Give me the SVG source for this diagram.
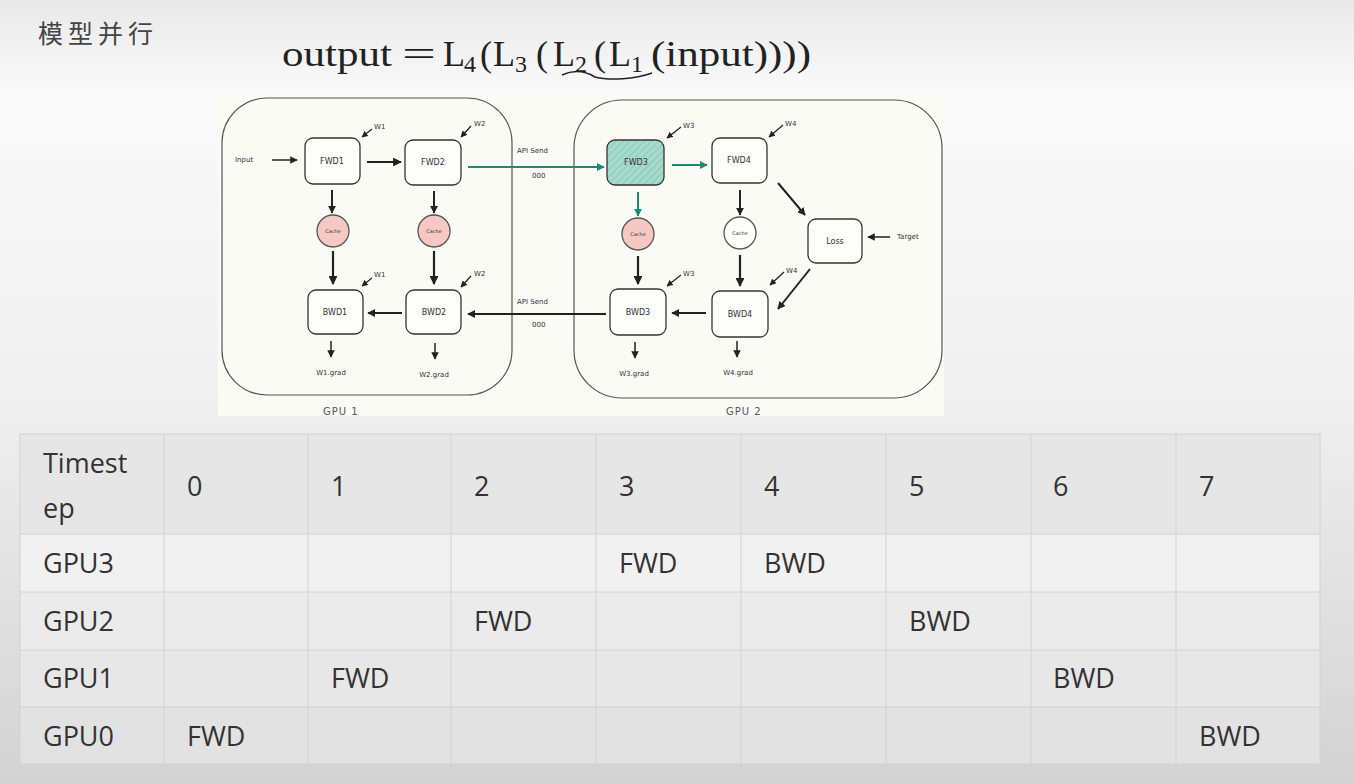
<svg xmlns="http://www.w3.org/2000/svg" width="1354" height="783" viewBox="0 0 1354 783">
<defs>
<linearGradient id="bg" x1="0" y1="0" x2="0" y2="1">
<stop offset="0" stop-color="#e9e9e9"/>
<stop offset="0.12" stop-color="#fafafa"/>
<stop offset="0.5" stop-color="#f0f0f0"/>
<stop offset="1" stop-color="#d3d3d3"/>
</linearGradient>
<pattern id="hatch" width="5" height="5" patternUnits="userSpaceOnUse" patternTransform="rotate(45)">
<rect width="5" height="5" fill="#a6dacb"/>
<line x1="0" y1="0" x2="0" y2="5" stroke="#7fc4b0" stroke-width="1.5"/>
</pattern>
<marker id="ah" viewBox="0 0 10 10" refX="9" refY="5" markerWidth="4" markerHeight="4" orient="auto" markerUnits="strokeWidth">
<path d="M0,0 L10,5 L0,10 z" fill="#222"/>
</marker>
<marker id="ahs" viewBox="0 0 10 10" refX="9" refY="5" markerWidth="5" markerHeight="5" orient="auto" markerUnits="strokeWidth">
<path d="M0,0 L10,5 L0,10 z" fill="#222"/>
</marker>
<marker id="aht" viewBox="0 0 10 10" refX="9" refY="5" markerWidth="4" markerHeight="4" orient="auto" markerUnits="strokeWidth">
<path d="M0,0 L10,5 L0,10 z" fill="#1d8a72"/>
</marker>
</defs>
<style>
.title{font-family:"Noto Sans CJK SC",sans-serif;font-size:25px;fill:#444;letter-spacing:5px}
.math{font-family:"Liberation Serif",serif;font-size:36px;fill:#222}
.sub{font-family:"Liberation Serif",serif;font-size:24px;fill:#222}
.box{fill:#fdfdfb;stroke:#333;stroke-width:1.3}
.gpu{fill:none;stroke:#555;stroke-width:1.2}
.hand{font-family:"DejaVu Sans",sans-serif;font-size:8px;fill:#333}
.small{font-family:"DejaVu Sans",sans-serif;font-size:7px;fill:#333}
.tiny{font-family:"DejaVu Sans",sans-serif;font-size:5px;fill:#333}
.glab{font-family:"DejaVu Sans",sans-serif;font-size:10px;fill:#555;letter-spacing:1px}
.c{stroke:#222;fill:none}
.t{stroke:#1d8a72;fill:none}
.cell{stroke:#d2d2d2;stroke-width:1}
.tt{font-family:"Open Sans",sans-serif;font-size:27px;fill:#333}
</style>
<rect x="0" y="0" width="1354" height="783" fill="url(#bg)"/>

<text class="title" x="38" y="43">模型并行</text>
<g id="formula">
<text class="math" x="282" y="66" textLength="110" lengthAdjust="spacingAndGlyphs">output</text>
<text class="math" x="402" y="66" textLength="34" lengthAdjust="spacingAndGlyphs">=</text>
<text class="math" x="443" y="66">L</text><text class="sub" x="464" y="72">4</text>
<text class="math" x="480" y="66">(</text><text class="math" x="493" y="66">L</text><text class="sub" x="515" y="72">3</text>
<text class="math" x="536" y="66">(</text><text class="math" x="553" y="66">L</text><text class="sub" x="575" y="72">2</text>
<text class="math" x="594" y="66">(</text><text class="math" x="609" y="66">L</text><text class="sub" x="631" y="72">1</text>
<text class="math" x="651" y="66" textLength="160" lengthAdjust="spacingAndGlyphs">(input))))</text>
<path d="M562,75 C575,69 585,71 595,77 C610,81 635,79 652,73" fill="none" stroke="#222" stroke-width="1.5"/>
</g>

<rect x="218" y="95" width="726" height="321" fill="#fbfbf6"/>
<g id="gpu1">
<rect class="gpu" x="222" y="98" width="290" height="297" rx="45"/>
<text class="glab" x="323" y="415">GPU 1</text>
</g>
<g id="gpu2">
<rect class="gpu" x="574" y="100" width="368" height="298" rx="48"/>
<text class="glab" x="726" y="415">GPU 2</text>
</g>

<g id="fwd1"><rect class="box" x="305" y="138" width="55" height="46" rx="8"/><text class="hand" x="332" y="164" text-anchor="middle">FWD1</text></g>
<g id="fwd2"><rect class="box" x="405" y="140" width="56" height="45" rx="8"/><text class="hand" x="433" y="165" text-anchor="middle">FWD2</text></g>
<g id="fwd3"><rect x="607" y="140" width="57" height="45" rx="8" fill="url(#hatch)" stroke="#333" stroke-width="1.3"/><text class="hand" x="636" y="165" text-anchor="middle">FWD3</text></g>
<g id="fwd4"><rect class="box" x="712" y="138" width="55" height="45" rx="8"/><text class="hand" x="739" y="163" text-anchor="middle">FWD4</text></g>
<g id="bwd1"><rect class="box" x="308" y="290" width="55" height="44" rx="8"/><text class="hand" x="335" y="315" text-anchor="middle">BWD1</text></g>
<g id="bwd2"><rect class="box" x="406" y="290" width="55" height="44" rx="8"/><text class="hand" x="434" y="315" text-anchor="middle">BWD2</text></g>
<g id="bwd3"><rect class="box" x="610" y="289" width="56" height="46" rx="8"/><text class="hand" x="638" y="315" text-anchor="middle">BWD3</text></g>
<g id="bwd4"><rect class="box" x="712" y="291" width="56" height="46" rx="8"/><text class="hand" x="740" y="317" text-anchor="middle">BWD4</text></g>
<g id="loss"><rect class="box" x="808" y="219" width="54" height="44" rx="8"/><text class="hand" x="835" y="244" text-anchor="middle">Loss</text></g>
<g id="cache1"><circle cx="333" cy="231" r="16" fill="#f5c8c4" stroke="#555" stroke-width="1.3"/><text class="tiny" x="333" y="233" text-anchor="middle">Cache</text></g>
<g id="cache2"><circle cx="434" cy="231" r="16" fill="#f5c8c4" stroke="#555" stroke-width="1.3"/><text class="tiny" x="434" y="233" text-anchor="middle">Cache</text></g>
<g id="cache3"><circle cx="638" cy="234" r="16" fill="#f5c8c4" stroke="#555" stroke-width="1.3"/><text class="tiny" x="638" y="236" text-anchor="middle">Cache</text></g>
<g id="cache4"><circle cx="740" cy="233" r="16" fill="#fdfdfb" stroke="#555" stroke-width="1.3"/><text class="tiny" x="740" y="235" text-anchor="middle">Cache</text></g>

<g id="labels">
<text class="small" x="235" y="162">Input</text>
<text class="small" x="897" y="239">Target</text>
<text class="small" x="517" y="153">API Send</text>
<text class="small" x="532" y="178">000</text>
<text class="small" x="517" y="304">API Send</text>
<text class="small" x="532" y="327">000</text>
<text class="small" x="374" y="129">W1</text>
<text class="small" x="474" y="126">W2</text>
<text class="small" x="683" y="128">W3</text>
<text class="small" x="785" y="126">W4</text>
<text class="small" x="374" y="277">W1</text>
<text class="small" x="474" y="276">W2</text>
<text class="small" x="683" y="276">W3</text>
<text class="small" x="786" y="273">W4</text>
<text class="small" x="331" y="375" text-anchor="middle">W1.grad</text>
<text class="small" x="434" y="377" text-anchor="middle">W2.grad</text>
<text class="small" x="634" y="376" text-anchor="middle">W3.grad</text>
<text class="small" x="738" y="375" text-anchor="middle">W4.grad</text>
</g>

<g id="connectors">
<line class="c" x1="272" y1="160" x2="297" y2="160" stroke-width="1.5" marker-end="url(#ahs)"/>
<line class="c" x1="367" y1="162" x2="401" y2="162" stroke-width="2.2" marker-end="url(#ah)"/>
<line class="t" x1="468" y1="167" x2="604" y2="167" stroke-width="2" marker-end="url(#aht)"/>
<line class="t" x1="672" y1="165" x2="707" y2="165" stroke-width="2" marker-end="url(#aht)"/>
<line class="t" x1="638" y1="192" x2="638" y2="216" stroke-width="2" marker-end="url(#aht)"/>
<line class="c" x1="332" y1="190" x2="332" y2="213" stroke-width="2" marker-end="url(#ah)"/>
<line class="c" x1="434" y1="191" x2="434" y2="213" stroke-width="2" marker-end="url(#ah)"/>
<line class="c" x1="740" y1="190" x2="740" y2="215" stroke-width="2" marker-end="url(#ah)"/>
<line class="c" x1="333" y1="251" x2="333" y2="284" stroke-width="2.2" marker-end="url(#ah)"/>
<line class="c" x1="434" y1="251" x2="434" y2="284" stroke-width="2.2" marker-end="url(#ah)"/>
<line class="c" x1="638" y1="256" x2="638" y2="284" stroke-width="2.2" marker-end="url(#ah)"/>
<line class="c" x1="740" y1="255" x2="740" y2="286" stroke-width="2.2" marker-end="url(#ah)"/>
<line class="c" x1="778" y1="183" x2="805" y2="215" stroke-width="2" marker-end="url(#ah)"/>
<line class="c" x1="810" y1="269" x2="778" y2="309" stroke-width="2" marker-end="url(#ah)"/>
<line class="c" x1="890" y1="237" x2="868" y2="237" stroke-width="1.5" marker-end="url(#ahs)"/>
<line class="c" x1="706" y1="313" x2="672" y2="313" stroke-width="2" marker-end="url(#ah)"/>
<line class="c" x1="606" y1="314" x2="468" y2="314" stroke-width="2" marker-end="url(#ah)"/>
<line class="c" x1="402" y1="313" x2="368" y2="313" stroke-width="2" marker-end="url(#ah)"/>
<line class="c" x1="331" y1="341" x2="331" y2="357" stroke-width="1.5" marker-end="url(#ahs)"/>
<line class="c" x1="435" y1="343" x2="435" y2="359" stroke-width="1.5" marker-end="url(#ahs)"/>
<line class="c" x1="635" y1="342" x2="635" y2="358" stroke-width="1.5" marker-end="url(#ahs)"/>
<line class="c" x1="737" y1="341" x2="737" y2="357" stroke-width="1.5" marker-end="url(#ahs)"/>
<line class="c" x1="372" y1="129" x2="362" y2="137" stroke-width="1.3" marker-end="url(#ahs)"/>
<line class="c" x1="471" y1="126" x2="461" y2="137" stroke-width="1.3" marker-end="url(#ahs)"/>
<line class="c" x1="681" y1="127" x2="667" y2="138" stroke-width="1.3" marker-end="url(#ahs)"/>
<line class="c" x1="783" y1="125" x2="769" y2="137" stroke-width="1.3" marker-end="url(#ahs)"/>
<line class="c" x1="372" y1="278" x2="362" y2="286" stroke-width="1.3" marker-end="url(#ahs)"/>
<line class="c" x1="471" y1="276" x2="461" y2="287" stroke-width="1.3" marker-end="url(#ahs)"/>
<line class="c" x1="681" y1="275" x2="667" y2="286" stroke-width="1.3" marker-end="url(#ahs)"/>
<line class="c" x1="784" y1="272" x2="770" y2="285" stroke-width="1.3" marker-end="url(#ahs)"/>
</g>

<g id="table">
<rect x="20" y="434" width="1300" height="100" fill="#e6e6e6"/>
<rect x="20" y="534" width="1300" height="58" fill="#f1f1f1"/>
<rect x="20" y="592" width="1300" height="58" fill="#ebebeb"/>
<rect x="20" y="650" width="1300" height="57" fill="#e7e7e7"/>
<rect x="20" y="707" width="1300" height="57" fill="#e2e2e2"/>
<g class="cell">
<rect x="20" y="434" width="1300" height="330" fill="none"/>
<line x1="20" y1="534" x2="1320" y2="534"/>
<line x1="20" y1="592" x2="1320" y2="592"/>
<line x1="20" y1="650" x2="1320" y2="650"/>
<line x1="20" y1="707" x2="1320" y2="707"/>
<line x1="164" y1="434" x2="164" y2="764"/>
<line x1="308" y1="434" x2="308" y2="764"/>
<line x1="451" y1="434" x2="451" y2="764"/>
<line x1="596" y1="434" x2="596" y2="764"/>
<line x1="741" y1="434" x2="741" y2="764"/>
<line x1="886" y1="434" x2="886" y2="764"/>
<line x1="1031" y1="434" x2="1031" y2="764"/>
<line x1="1176" y1="434" x2="1176" y2="764"/>
</g>
<text class="tt" x="43" y="473">Timest</text>
<text class="tt" x="43" y="518">ep</text>
<text class="tt" x="187" y="496">0</text>
<text class="tt" x="331" y="496">1</text>
<text class="tt" x="474" y="496">2</text>
<text class="tt" x="619" y="496">3</text>
<text class="tt" x="764" y="496">4</text>
<text class="tt" x="909" y="496">5</text>
<text class="tt" x="1053" y="496">6</text>
<text class="tt" x="1199" y="496">7</text>
<text class="tt" x="43" y="573">GPU3</text>
<text class="tt" x="43" y="631">GPU2</text>
<text class="tt" x="43" y="688">GPU1</text>
<text class="tt" x="43" y="746">GPU0</text>
<text class="tt" x="619" y="573">FWD</text>
<text class="tt" x="764" y="573">BWD</text>
<text class="tt" x="474" y="631">FWD</text>
<text class="tt" x="909" y="631">BWD</text>
<text class="tt" x="331" y="688">FWD</text>
<text class="tt" x="1053" y="688">BWD</text>
<text class="tt" x="187" y="746">FWD</text>
<text class="tt" x="1199" y="746">BWD</text>
</g>
</svg>
